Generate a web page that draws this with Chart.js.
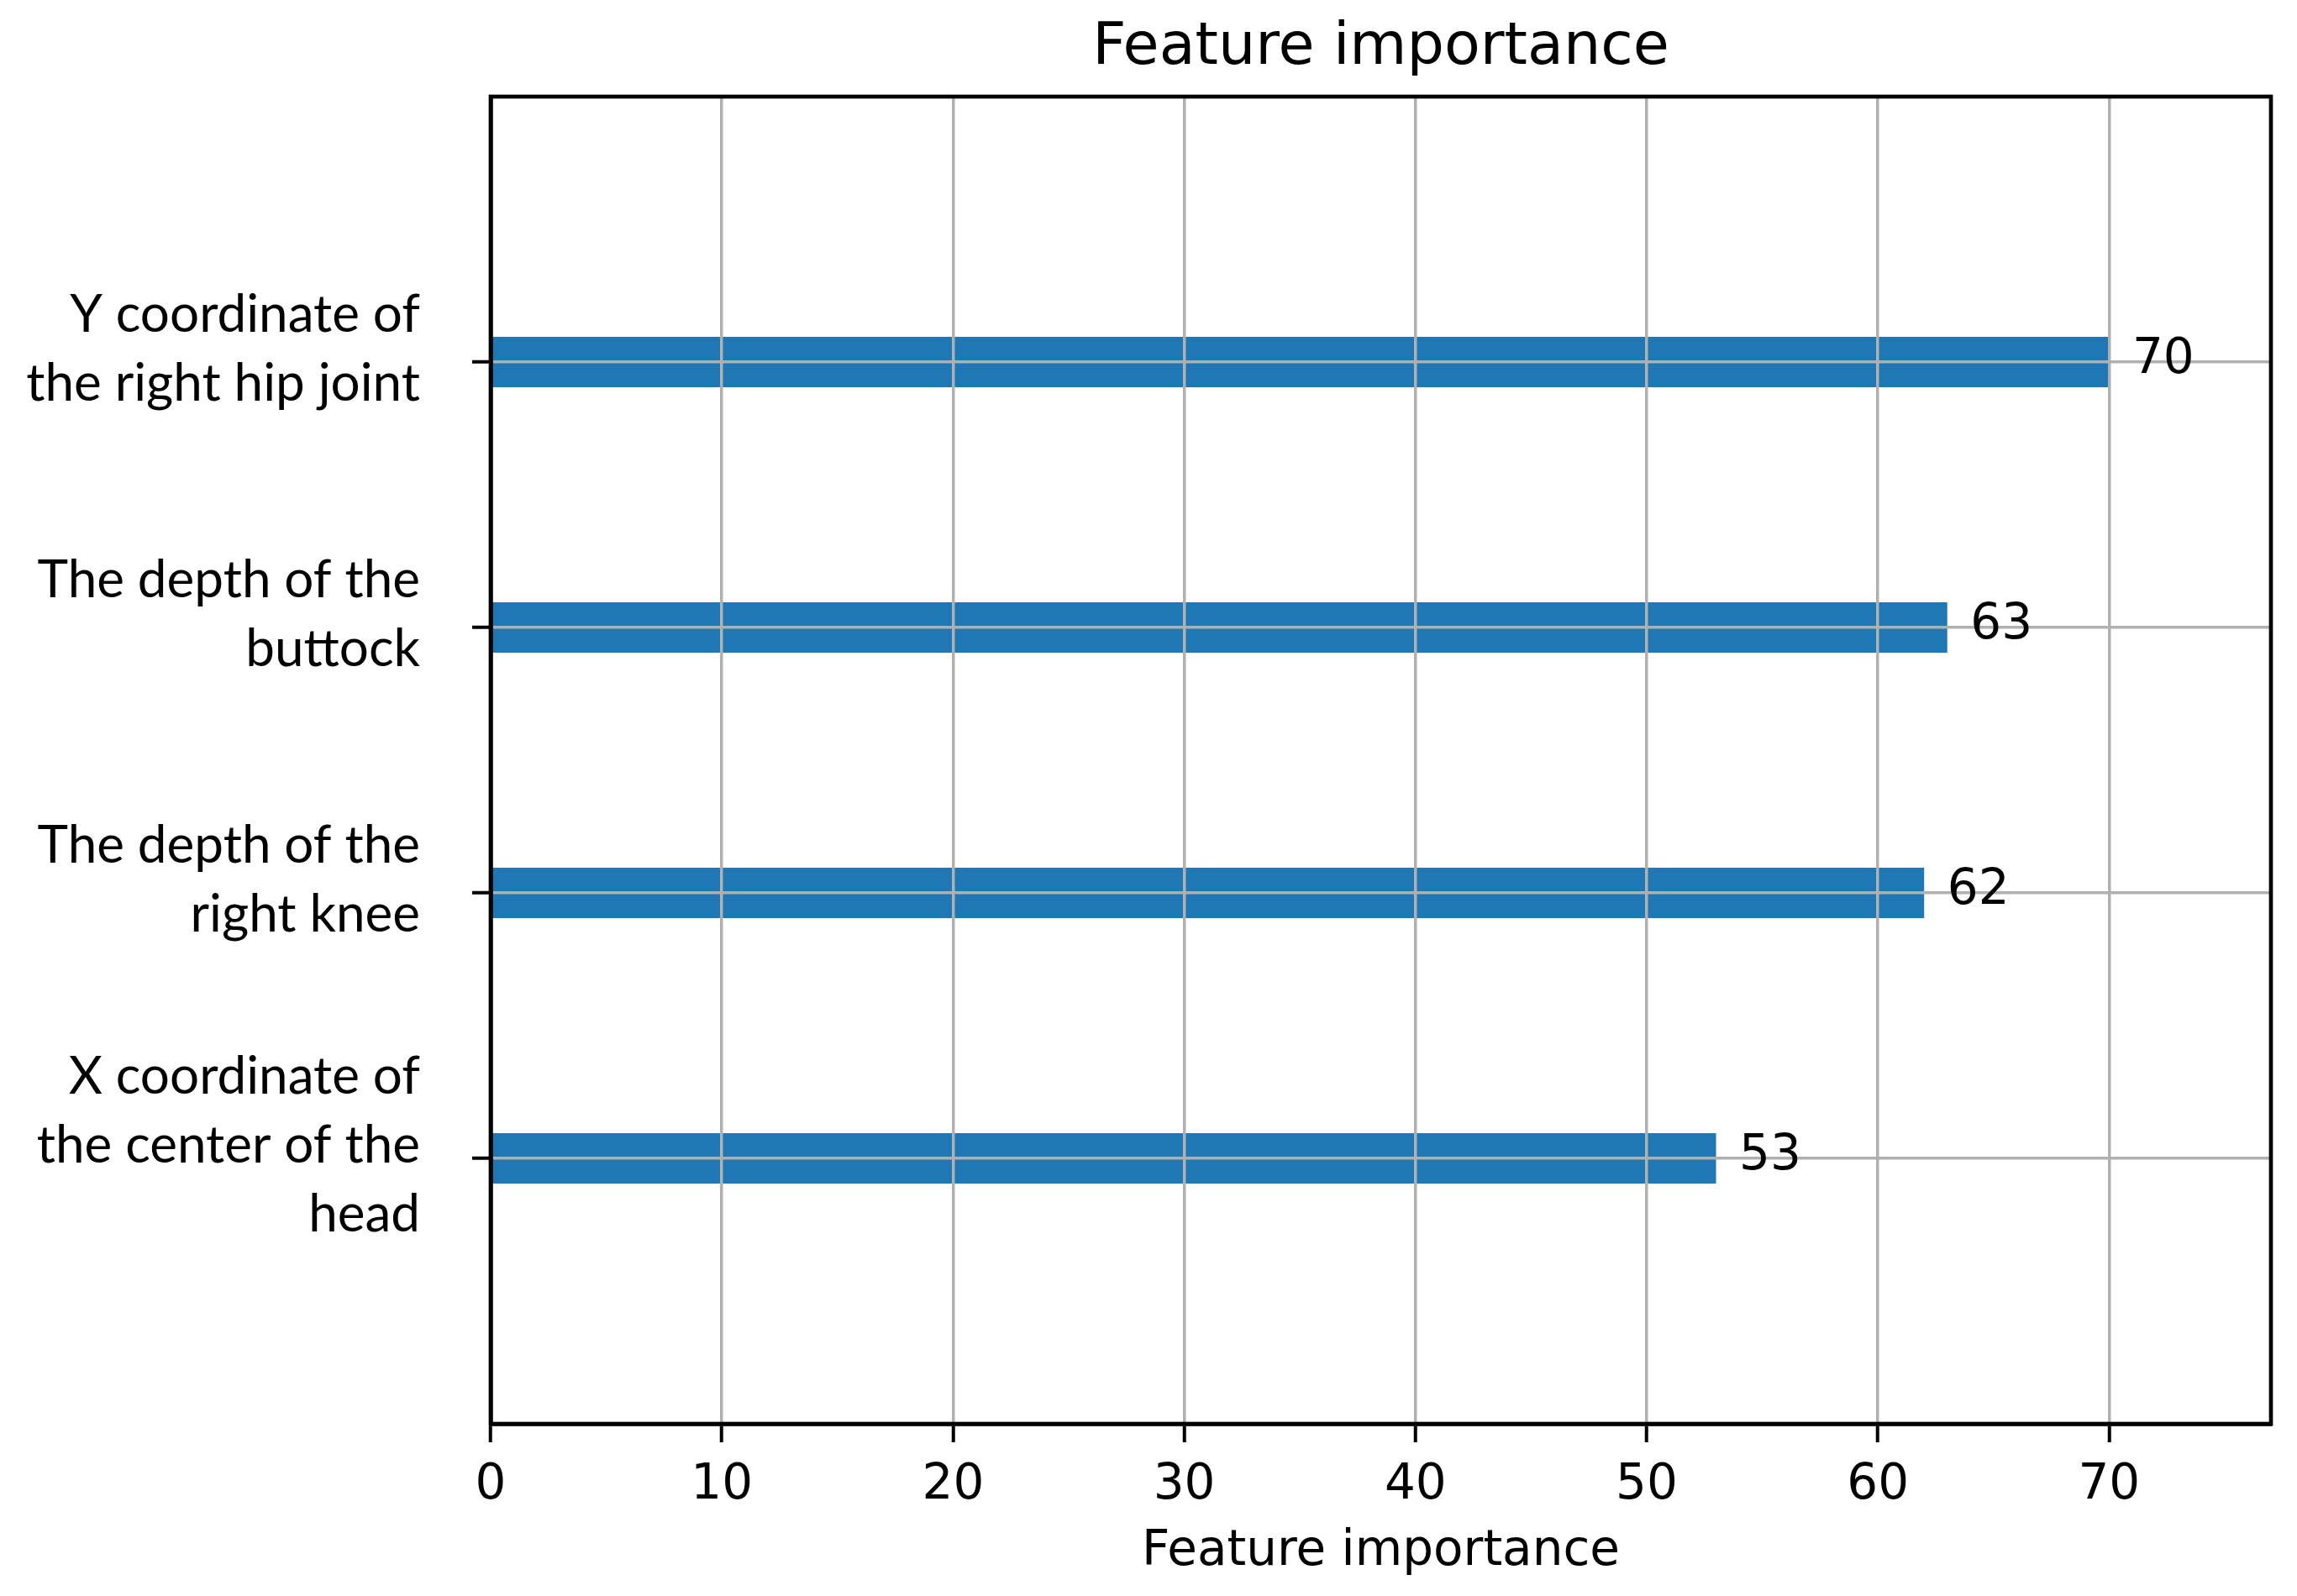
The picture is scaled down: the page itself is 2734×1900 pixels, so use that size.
<!DOCTYPE html>
<html>
<head>
<meta charset="utf-8">
<script src="https://cdn.jsdelivr.net/npm/chart.js@4/dist/chart.umd.min.js"></script>
<style>
  html, body { margin: 0; padding: 0; background: #fff; }
  canvas { display: block; }
</style>
</head>
<body>
<canvas id="chart" width="2734" height="1900"></canvas>
<script>
// features, top to bottom as in the plot
const categories = [
    ['Y coordinate of', 'the right hip joint'],
    ['The depth of the', 'buttock'],
    ['The depth of the', 'right knee'],
    ['X coordinate of', 'the center of the', 'head']
];
const importance = [70, 63, 62, 53];
const xTickValues = [0, 10, 20, 30, 40, 50, 60, 70];
const xMax = 77;

// one empty slot above and below so the axis runs from -1 to n like matplotlib
const labels = [''].concat(categories, ['']);
const values = [null].concat(importance, [null]);
const lastIdx = labels.length - 1;

const tickFont = { family: 'DejaVu Sans', size: 58 };
const grey = '#b0b0b0';

const frame = {
    id: 'frame',
    afterDraw(chart) {
        const { ctx, chartArea: a } = chart;
        ctx.save();
        ctx.strokeStyle = '#000';
        ctx.lineWidth = 4.7;
        ctx.strokeRect(a.left, a.top, a.right - a.left, a.bottom - a.top);
        ctx.restore();
    }
};

const valueLabels = {
    id: 'valueLabels',
    afterDraw(chart) {
        const { ctx } = chart;
        const xs = chart.scales.x;
        const meta = chart.getDatasetMeta(0);
        ctx.save();
        ctx.font = '58px "DejaVu Sans"';
        ctx.fillStyle = '#000';
        ctx.textAlign = 'left';
        ctx.textBaseline = 'middle';
        meta.data.forEach((bar, i) => {
            const v = values[i];
            if (v === null) return;
            ctx.fillText(String(v), xs.getPixelForValue(v + 1), bar.y - 2);
        });
        ctx.restore();
    }
};

new Chart(document.getElementById('chart').getContext('2d'), {
    type: 'bar',
    data: {
        labels: labels,
        datasets: [{
            data: values,
            backgroundColor: '#1f77b4',
            borderWidth: 0,
            categoryPercentage: 1,
            barPercentage: 0.19
        }]
    },
    options: {
        indexAxis: 'y',
        responsive: false,
        animation: false,
        devicePixelRatio: 1,
        layout: { padding: { left: 0, right: 31, top: 0, bottom: 0 } },
        plugins: {
            legend: { display: false },
            tooltip: { enabled: false }
        },
        scales: {
            x: {
                position: 'bottom',
                min: 0,
                max: xMax,
                afterFit(s) { s.height = 205; },
                afterBuildTicks(s) {
                    s.ticks = xTickValues.map(v => ({ value: v }));
                },
                grid: {
                    z: 1,
                    color: grey,
                    lineWidth: 3.5,
                    tickColor: '#000',
                    tickWidth: 4,
                    tickLength: 22
                },
                border: { display: true, color: '#000', width: 4.7, z: 2 },
                ticks: {
                    color: '#000',
                    font: tickFont,
                    padding: 17,
                    maxRotation: 0,
                    autoSkip: false
                },
                title: {
                    display: true,
                    text: 'Feature importance',
                    color: '#000',
                    font: { family: 'DejaVu Sans', size: 58, lineHeight: 1.2 },
                    padding: { top: 0, bottom: 17 }
                }
            },
            x2: {
                position: 'top',
                afterFit(s) { s.height = 115; },
                grid: { display: false },
                border: { display: false },
                ticks: { display: false },
                title: {
                    display: true,
                    text: 'Feature importance',
                    color: '#000',
                    font: { family: 'DejaVu Sans', size: 70, lineHeight: 1.2 },
                    padding: { top: 16, bottom: 0 }
                }
            },
            y: {
                offset: false,
                afterFit(s) { s.width = 584; },
                grid: {
                    z: 1,
                    offset: false,
                    color: ctx => (ctx.index === 0 || ctx.index === lastIdx) ? 'rgba(0,0,0,0)' : grey,
                    lineWidth: 3.5,
                    tickColor: ctx => (ctx.index === 0 || ctx.index === lastIdx) ? 'rgba(0,0,0,0)' : '#000',
                    tickWidth: 4,
                    tickLength: 22
                },
                border: { display: true, color: '#000', width: 4.7, z: 2 },
                ticks: {
                    color: '#000',
                    font: { family: 'Lato', size: 62, lineHeight: 1.32 },
                    padding: 62,
                    labelOffset: -15,
                    autoSkip: false
                }
            }
        }
    },
    plugins: [frame, valueLabels]
});
</script>
</body>
</html>
